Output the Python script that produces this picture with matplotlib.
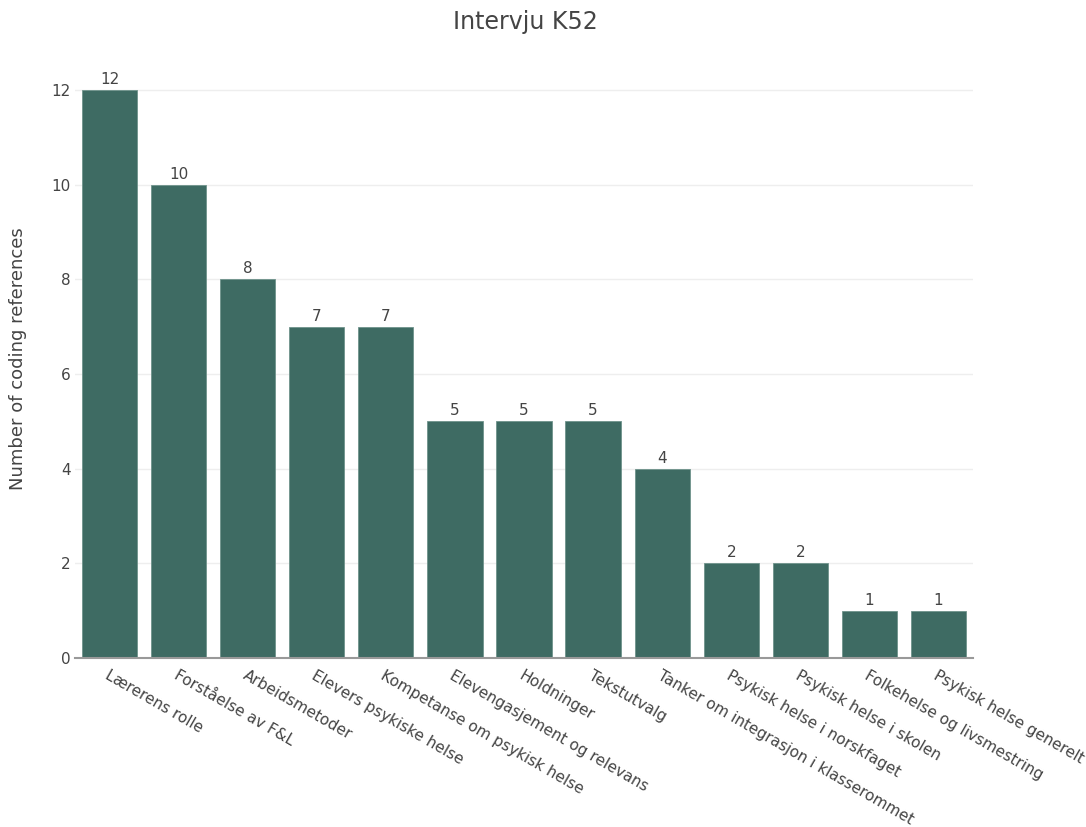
import matplotlib.pyplot as plt, numpy as np, matplotlib
matplotlib.rc('font', **{'size': 9, 'family': 'DejaVu Sans'})

categories = ['Lærerens rolle', 'Forståelse av F&L', 'Arbeidsmetoder', 'Elevers psykiske helse',
              'Kompetanse om psykisk helse', 'Elevengasjement og relevans', 'Holdninger', 'Tekstutvalg',
              'Tanker om integrasjon i klasserommet', 'Psykisk helse i norskfaget', 'Psykisk helse i skolen',
              'Folkehelse og livsmestring', 'Psykisk helse generelt']
counts = [12, 10, 8, 7, 7, 5, 5, 5, 4, 2, 2, 1, 1]
yticks = [0, 2, 4, 6, 8, 10, 12]

txt = '#444444'
bar_col = '#3e6b63'

fig = plt.figure(figsize=(10.86, 8.27), dpi=100)
ax = fig.add_axes([75/1086, 1-658/827, (973-75)/1086, (658-60)/827])

x = np.arange(len(categories))
bars = ax.bar(x, counts, width=0.8, color=bar_col, edgecolor='#6f938c', lw=0.6, zorder=3)
for xi, c in zip(x, counts):
    ax.text(xi, c + 0.06, str(c), ha='center', va='bottom', color=txt, fontsize=11)

ax.set_xlim(-0.5, len(categories) - 0.5)
ax.set_ylim(0, 12.63)
ax.set_yticks(yticks)
ax.set_yticklabels([str(t) for t in yticks], color=txt, fontsize=11)
ax.set_xticks(x)
ax.set_xticklabels(categories, rotation=-30, ha='left', va='top', rotation_mode='anchor',
                   color=txt, fontsize=11)
ax.tick_params(axis='x', length=0, pad=7)
ax.tick_params(axis='y', length=0, pad=3)
ax.grid(axis='y', color='#eeeeee', lw=1, zorder=0)
for s in ['top', 'right', 'left']:
    ax.spines[s].set_visible(False)
ax.spines['bottom'].set_color('#999999')
ax.spines['bottom'].set_linewidth(1.5)
ax.spines['bottom'].set_zorder(4)

ax.set_ylabel('Number of coding references', color=txt, fontsize=13, labelpad=18)
fig.text(525/1086, 1-22/827, 'Intervju K52', ha='center', va='center', color=txt, fontsize=17)

fig.savefig('out.png', dpi=100)
